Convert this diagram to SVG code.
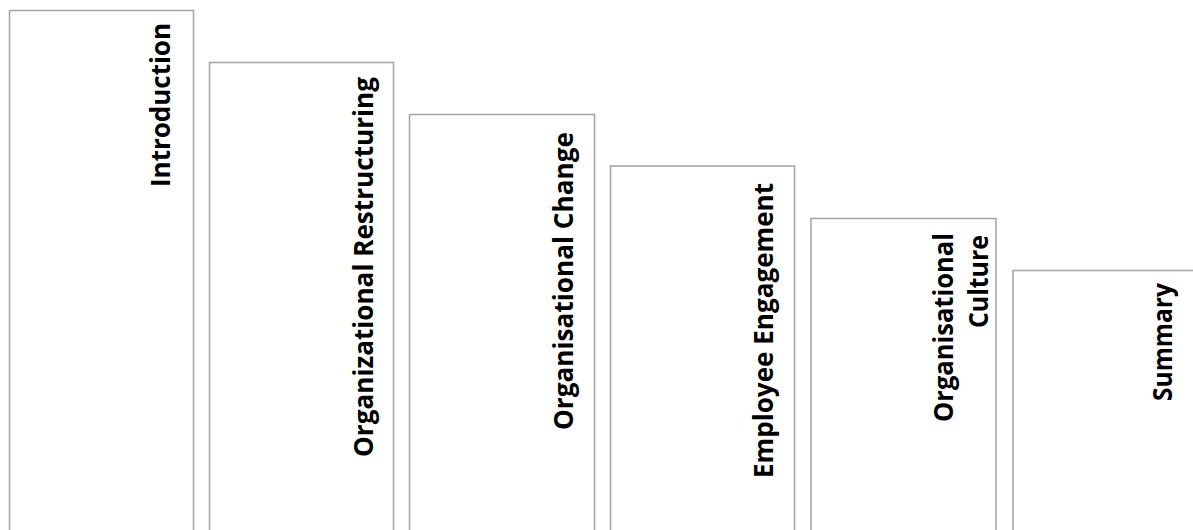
<svg xmlns="http://www.w3.org/2000/svg" width="1193" height="530" viewBox="0 0 1193 530">
  <style>
    .step { fill: #ffffff; stroke: #a3a3a3; stroke-width: 1.5; }
    .label { font-family: "Open Sans", "Liberation Sans", sans-serif; font-weight: 700; font-size: 26px; fill: #000000; }
  </style>
  <rect x="0" y="0" width="1193" height="530" fill="#ffffff"/>
  <g id="connectors"></g>
  <g id="step-introduction">
    <rect class="step" x="9.5" y="10.5" width="184" height="530"/>
    <text class="label" transform="translate(169.5,187) rotate(-90)" textLength="164" lengthAdjust="spacingAndGlyphs">Introduction</text>
  </g>
  <g id="step-restructuring">
    <rect class="step" x="209.5" y="62.5" width="184" height="480"/>
    <text class="label" transform="translate(373,457) rotate(-90)" textLength="380" lengthAdjust="spacingAndGlyphs">Organizational Restructuring</text>
  </g>
  <g id="step-change">
    <rect class="step" x="409.5" y="114.5" width="185" height="430"/>
    <text class="label" transform="translate(573,430) rotate(-90)" textLength="298" lengthAdjust="spacingAndGlyphs">Organisational Change</text>
  </g>
  <g id="step-engagement">
    <rect class="step" x="610.5" y="166" width="184" height="380"/>
    <text class="label" transform="translate(773,478) rotate(-90)" textLength="295" lengthAdjust="spacingAndGlyphs">Employee Engagement</text>
  </g>
  <g id="step-culture">
    <rect class="step" x="811" y="218.5" width="185" height="330"/>
    <text class="label" transform="translate(953,422) rotate(-90)" textLength="189" lengthAdjust="spacingAndGlyphs">Organisational</text>
    <text class="label" transform="translate(988,328) rotate(-90)" textLength="93" lengthAdjust="spacingAndGlyphs">Culture</text>
  </g>
  <g id="step-summary">
    <rect class="step" x="1013" y="270.5" width="184" height="280"/>
    <text class="label" transform="translate(1172,401) rotate(-90)" textLength="118" lengthAdjust="spacingAndGlyphs">Summary</text>
  </g>
</svg>
